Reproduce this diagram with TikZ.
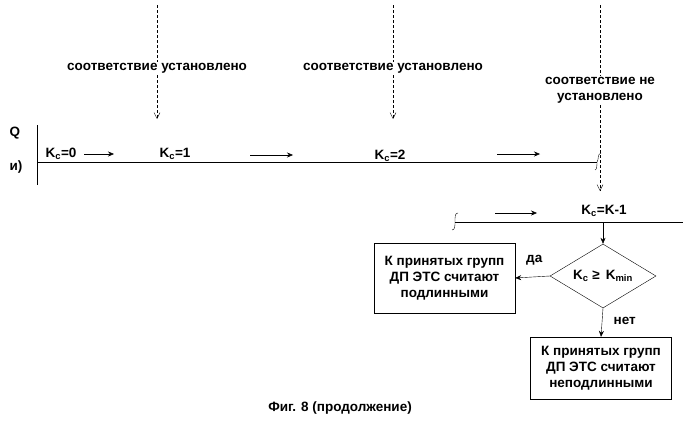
\documentclass[tikz,border=0pt]{standalone}
\usepackage{fontspec}
\setmainfont{Liberation Sans}
\usetikzlibrary{arrows.meta,shapes.geometric}
\begin{document}
\begin{tikzpicture}[x=1pt,y=-1pt,font=\fontsize{13.5}{16}\selectfont\bfseries,
	lbl/.style={inner sep=1pt},
	note/.style={inner sep=1pt,fill=white},
	flow/.style={-{Stealth[length=6pt,width=5pt]}},
	probe/.style={dash pattern=on 3pt off 2pt,-{Straight Barb[length=6pt,width=6pt]}},
	decbox/.style={draw,align=center,minimum width=141pt,minimum height=70pt,inner sep=2pt},
	cond/.style={draw,diamond,aspect=1.65,minimum width=106pt,minimum height=64pt,inner sep=0pt}]
	\useasboundingbox (0,0) rectangle (699,426);
	% time axis
	\coordinate (ax0) at (37,125);
	\coordinate (ax1) at (37,185);
	\coordinate (m0) at (37,162);
	\coordinate (m1) at (597,162);
	\draw (ax0) -- (ax1);
	\draw (m0) -- (m1);
	\draw (m1) .. controls (599,160) and (597,154) .. (601,153);
	\draw (595,170) .. controls (597,170) and (597,164) .. (m1);
	\node[lbl] (q) at (15,133) {Q};
	\node[lbl] (i) at (16,167) {и)};
	
	% probes
	\coordinate (p1) at (157,5);  \coordinate (p1e) at (157,119);
	\coordinate (p2) at (393,5);  \coordinate (p2e) at (393,119);
	\coordinate (p3) at (600,5);  \coordinate (p3e) at (600,191);
	\draw [probe] (p1) -- (p1e);
	\draw [probe] (p2) -- (p2e);
	\draw [probe] (p3) -- (p3e);
	\node[note] (t1) at (157,68) {соответствие установлено};
	\node[note] (t2) at (393,68) {соответствие установлено};
	\node[note,align=center] (t3) at (600,90) {соответствие не\\установлено};
	
	\node[lbl] (k0) at (61,154) {K\textsubscript{c}=0};
	\node[lbl] (k1) at (175,154) {K\textsubscript{c}=1};
	\node[lbl] (k2) at (390,156) {K\textsubscript{c}=2};
	\coordinate (a1s) at (84,154);   \coordinate (a1e) at (114,154);
	\coordinate (a2s) at (250,155);  \coordinate (a2e) at (293,155);
	\coordinate (a3s) at (497,154);  \coordinate (a3e) at (540,154);
	\draw [flow] (a1s) -- (a1e);
	\draw [flow] (a2s) -- (a2e);
	\draw [flow] (a3s) -- (a3e);
	
	% second axis
	\coordinate (n0) at (455,222);
	\coordinate (n1) at (683,222);
	\draw (n0) -- (n1);
	\draw (n0) .. controls (455,216) and (455,213) .. (458,213);
	\draw (452,230) .. controls (455,230) and (455,226) .. (n0);
	\coordinate (a4s) at (495,213); \coordinate (a4e) at (537,213);
	\draw [flow] (a4s) -- (a4e);
	\node[lbl] (kk) at (604,211) {K\textsubscript{c}=K-1};
	\coordinate (drop) at (603,222);
	
	% decision
	\node[cond] (test) at (603,276) {K\textsubscript{c} ≥ \,K\textsubscript{min}};
	\node[decbox] (yes) at (444.5,278) {К принятых групп\\ДП ЭТС считают\\подлинными};
	\node[decbox,minimum height=62pt] (no) at (601,368) {К принятых групп\\ДП ЭТС считают\\неподлинными};
	\draw [flow] (drop) -- (test.north);
	\draw [flow] (test.west) -- (yes.east) node[pos=.45,above=8pt] {да};
	\draw [flow] (test.south) -- (no.north) node[pos=.45,right=8pt] {нет};
	
	\node[lbl] (cap) at (340,408) {Фиг. 8 (продолжение)};
\end{tikzpicture}
\end{document}
